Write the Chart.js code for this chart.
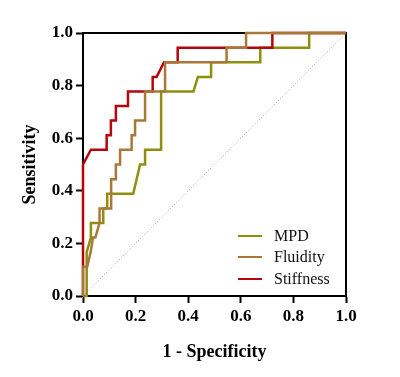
<!DOCTYPE html>
<html>
<head>
<meta charset="utf-8">
<script src="https://cdn.jsdelivr.net/npm/chart.js@4"></script>
<style>
  html, body { margin: 0; padding: 0; background: #fff; }
  #wrap { position: relative; width: 400px; height: 377px; }
  #legend { position: absolute; left: 238px; top: 225px; font: 16px "Liberation Serif", serif; color: #111; }
  .row { display: flex; align-items: center; height: 21.5px; }
  .swatch { width: 24px; height: 2px; margin-right: 12px; }
</style>
</head>
<body>
<div id="wrap">
  <canvas id="chart" width="400" height="377"></canvas>
  <div id="legend"></div>
</div>
<script>
const SERIES_NAMES = ["MPD", "Fluidity", "Stiffness"];
const SERIES_COLORS = ["#8e8e10", "#a97838", "#b5060e"];

const mpdX = [0, 0.014, 0.014, 0.03, 0.03, 0.077, 0.077, 0.092, 0.092, 0.191, 0.217, 0.236, 0.236, 0.297, 0.297, 0.42, 0.437, 0.487, 0.487, 0.674, 0.674, 0.86, 0.86, 1];
const mpdY = [0, 0, 0.167, 0.222, 0.278, 0.278, 0.333, 0.333, 0.389, 0.389, 0.5, 0.5, 0.556, 0.556, 0.778, 0.778, 0.833, 0.833, 0.889, 0.889, 0.944, 0.944, 1, 1];

const fluidityX = [0, 0, 0.016, 0.029, 0.038, 0.047, 0.063, 0.063, 0.107, 0.107, 0.125, 0.125, 0.141, 0.141, 0.185, 0.185, 0.198, 0.198, 0.236, 0.236, 0.312, 0.312, 0.546, 0.546, 0.62, 0.62, 1];
const fluidityY = [0, 0.111, 0.111, 0.167, 0.222, 0.222, 0.278, 0.333, 0.333, 0.444, 0.444, 0.5, 0.5, 0.556, 0.556, 0.611, 0.611, 0.667, 0.667, 0.778, 0.778, 0.889, 0.889, 0.944, 0.944, 1, 1];

const stiffnessX = [0, 0, 0.03, 0.09, 0.09, 0.106, 0.106, 0.125, 0.125, 0.171, 0.171, 0.265, 0.265, 0.28, 0.308, 0.36, 0.36, 0.72, 0.72, 1];
const stiffnessY = [0, 0.5, 0.556, 0.556, 0.611, 0.611, 0.667, 0.667, 0.722, 0.722, 0.778, 0.778, 0.833, 0.833, 0.889, 0.889, 0.944, 0.944, 1, 1];

const refX = [0, 1];
const refY = [0, 1];

const AXIS_TICKS = [0, 0.2, 0.4, 0.6, 0.8, 1.0];

const FONT = "'Liberation Serif', 'Times New Roman', serif";

function pts(xs, ys) {
  return xs.map((x, i) => ({ x, y: ys[i] }));
}

function curve(label, xs, ys, color, order) {
  return {
    label,
    data: pts(xs, ys),
    showLine: true,
    borderColor: color,
    borderWidth: 2.5,
    pointRadius: 0,
    fill: false,
    clip: 4,
    order,
  };
}

// plain black box round the plot, under the curves
const frame = {
  id: "frame",
  beforeDatasetsDraw(chart) {
    const { ctx, chartArea: a } = chart;
    ctx.save();
    ctx.strokeStyle = "#000";
    ctx.lineWidth = 2;
    ctx.beginPath();
    ctx.moveTo(a.left, a.top);
    ctx.lineTo(a.right, a.top);
    ctx.lineTo(a.right, a.bottom);
    ctx.stroke();
    ctx.restore();
  },
};

const axisTicks = {
  min: 0,
  max: 1,
  afterBuildTicks(scale) {
    scale.ticks = AXIS_TICKS.map((v) => ({ value: v }));
  },
};

new Chart(document.getElementById("chart"), {
  type: "scatter",
  data: {
    datasets: [
      curve(SERIES_NAMES[0], mpdX, mpdY, SERIES_COLORS[0], 2),
      curve(SERIES_NAMES[1], fluidityX, fluidityY, SERIES_COLORS[1], 0),
      curve(SERIES_NAMES[2], stiffnessX, stiffnessY, SERIES_COLORS[2], 1),
      {
        label: "ref",
        data: pts(refX, refY),
        showLine: true,
        borderColor: "#a8a8a8",
        borderWidth: 1,
        borderDash: [1, 2],
        pointRadius: 0,
        order: 3,
      },
    ],
  },
  options: {
    responsive: false,
    animation: false,
    layout: { padding: { left: 0, top: 33, right: 54, bottom: 0 } },
    plugins: { legend: { display: false }, tooltip: { enabled: false } },
    scales: {
      x: {
        type: "linear",
        ...axisTicks,
        afterFit(scale) { scale.height = 81; },
        border: { display: true, color: "#000", width: 2 },
        grid: { drawOnChartArea: false, drawTicks: true, tickLength: 7, color: "#000", tickWidth: 2 },
        ticks: {
          color: "#000",
          padding: 3,
          maxRotation: 0,
          font: { family: FONT, size: 17, weight: "bold" },
          callback: (v) => v.toFixed(1),
        },
        title: {
          display: true,
          text: "1 - Specificity",
          color: "#000",
          padding: { top: 0, bottom: 14 },
          font: { family: FONT, size: 18, weight: "bold" },
        },
      },
      y: {
        type: "linear",
        ...axisTicks,
        afterFit(scale) { scale.width = 83; },
        border: { display: true, color: "#000", width: 2 },
        grid: { drawOnChartArea: false, drawTicks: true, tickLength: 7, color: "#000", tickWidth: 2 },
        ticks: {
          color: "#000",
          padding: 3,
          font: { family: FONT, size: 17, weight: "bold" },
          callback: (v) => v.toFixed(1),
        },
        title: {
          display: true,
          text: "Sensitivity",
          color: "#000",
          padding: { top: 20, bottom: 0 },
          font: { family: FONT, size: 18, weight: "bold" },
        },
      },
    },
  },
  plugins: [frame],
});

const legend = document.getElementById("legend");
SERIES_NAMES.forEach((name, i) => {
  const row = document.createElement("div");
  row.className = "row";
  const sw = document.createElement("div");
  sw.className = "swatch";
  sw.style.background = SERIES_COLORS[i];
  const txt = document.createElement("span");
  txt.textContent = name;
  row.appendChild(sw);
  row.appendChild(txt);
  legend.appendChild(row);
});
</script>
</body>
</html>
